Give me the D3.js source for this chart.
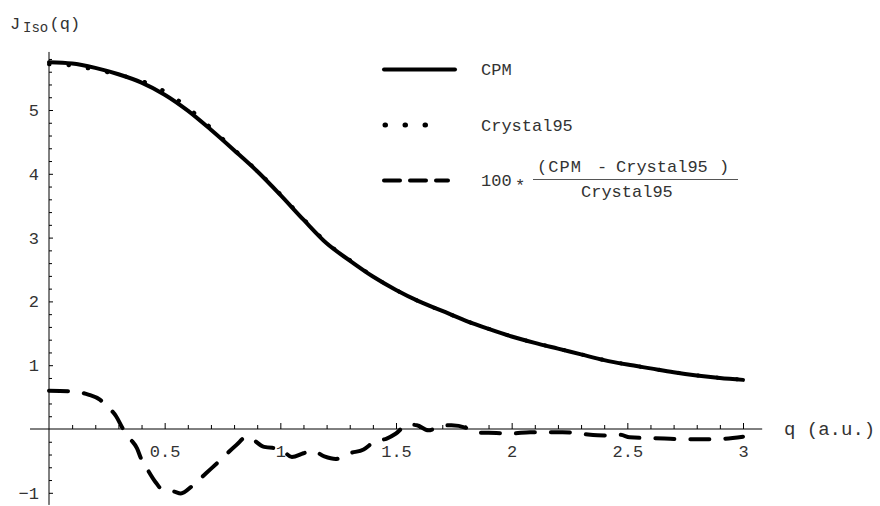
<!DOCTYPE html>
<html>
<head>
<meta charset="utf-8">
<script src="https://cdn.jsdelivr.net/npm/d3@7"></script>
<style>
  body { margin: 0; background: #fff; }
  svg text { font-family: "Liberation Mono", monospace; fill: #333; }
  .tick line { stroke: #000; }
</style>
</head>
<body>
<script>
// DATA

var qValues = [0, 0.1, 0.2, 0.3, 0.4, 0.5, 0.6, 0.7, 0.8, 0.9, 1.0, 1.1, 1.2, 1.3, 1.4, 1.5,
  1.6, 1.7, 1.8, 1.9, 2.0, 2.1, 2.2, 2.3, 2.4, 2.5, 2.6, 2.7, 2.8, 2.9, 3.0];

var cpm = [5.75, 5.73, 5.66, 5.56, 5.43, 5.24, 4.99, 4.69, 4.37, 4.04, 3.67, 3.28, 2.91, 2.64, 2.39, 2.18,
  2.00, 1.85, 1.70, 1.57, 1.45, 1.35, 1.26, 1.17, 1.08, 1.01, 0.95, 0.89, 0.84, 0.80, 0.77];

var crystal95 = [5.716, 5.696, 5.632, 5.552, 5.457, 5.291, 5.038, 4.720, 4.382, 4.048, 3.681, 3.292, 2.923, 2.650, 2.395, 2.181,
  1.999, 1.849, 1.700, 1.571, 1.451, 1.351, 1.261, 1.171, 1.081, 1.011, 0.951, 0.891, 0.841, 0.801, 0.771];

// 100 * (CPM - Crystal95) / Crystal95
var diffQ = [0, 0.1, 0.17, 0.22, 0.25, 0.29, 0.32, 0.35, 0.38, 0.40, 0.42, 0.46, 0.49, 0.54, 0.57, 0.62,
  0.68, 0.74, 0.81, 0.855, 0.93, 1.0, 1.05, 1.10, 1.14, 1.19, 1.24, 1.30, 1.36, 1.41, 1.46, 1.50,
  1.55, 1.59, 1.64, 1.69, 1.74, 1.81, 1.85, 1.90, 2.0, 2.08, 2.22, 2.31, 2.40, 2.47, 2.51, 2.66,
  2.74, 2.87, 3.0];
var diffValues = [0.60, 0.59, 0.54, 0.46, 0.36, 0.20, 0.0, -0.15, -0.30, -0.48, -0.60, -0.83, -0.95, -0.98, -1.01, -0.89,
  -0.69, -0.49, -0.25, -0.12, -0.28, -0.31, -0.44, -0.38, -0.34, -0.43, -0.47, -0.38, -0.32, -0.19, -0.15, -0.07,
  0.07, 0.06, -0.02, 0.04, 0.06, 0.01, -0.06, -0.06, -0.07, -0.05, -0.05, -0.08, -0.10, -0.09, -0.13, -0.15,
  -0.16, -0.16, -0.12];

var xTicks = [0.5, 1, 1.5, 2, 2.5, 3];
var yTicks = [-1, 1, 2, 3, 4, 5];

// SET CHART

var width = 880, height = 506;

var svg = d3.select("body")
  .append("svg")
  .attr("width", width)
  .attr("height", height);

var x = d3.scaleLinear().domain([0, 3]).range([49, 743]);
var y = d3.scaleLinear().domain([0, 5]).range([429, 110]);

// axes lines
svg.append("line")
  .attr("x1", x(-0.082)).attr("x2", x(3.083))
  .attr("y1", y(0)).attr("y2", y(0))
  .style("stroke", "#000").style("stroke-width", 1);

svg.append("line")
  .attr("x1", x(0)).attr("x2", x(0))
  .attr("y1", y(5.91)).attr("y2", y(-1.19))
  .style("stroke", "#000").style("stroke-width", 1);

// x ticks
var xMinor = d3.range(1, 31).map(function (i) { return i / 10; })
  .filter(function (v) { return Math.abs(v * 2 - Math.round(v * 2)) > 1e-6; });

svg.append("g")
  .attr("transform", "translate(0," + y(0) + ")")
  .call(d3.axisBottom(x).tickValues(xMinor).tickSize(-4).tickFormat(""))
  .call(function (g) { g.select(".domain").remove(); });

svg.append("g")
  .attr("transform", "translate(0," + y(0) + ")")
  .call(d3.axisBottom(x).tickValues(xTicks).tickSize(-6).tickPadding(15.5).tickFormat(d3.format("")))
  .call(function (g) { g.select(".domain").remove(); })
  .selectAll("text")
  .style("font-size", "17px")
  .style("font-family", "Liberation Mono, monospace");

// y ticks
var yMinor = d3.range(-5, 30).map(function (i) { return i / 5; })
  .filter(function (v) { return Math.abs(v - Math.round(v)) > 1e-6; });

svg.append("g")
  .attr("transform", "translate(" + x(0) + ",0)")
  .call(d3.axisLeft(y).tickValues(yMinor).tickSize(-3).tickFormat(""))
  .call(function (g) { g.select(".domain").remove(); });

svg.append("g")
  .attr("transform", "translate(" + x(0) + ",0)")
  .call(d3.axisLeft(y).tickValues(yTicks).tickSize(-4).tickPadding(10).tickFormat(d3.format("")))
  .call(function (g) { g.select(".domain").remove(); })
  .selectAll("text")
  .style("font-size", "17px")
  .style("font-family", "Liberation Mono, monospace");

// axis labels
var yLabel = svg.append("text").attr("y", 29).style("font-size", "17px");
yLabel.append("tspan").attr("x", 10).text("J");
yLabel.append("tspan").attr("x", 23).attr("y", 32).style("font-size", "14px").text("Iso");
yLabel.append("tspan").attr("x", 49.5).attr("y", 29).text("(q)");

svg.append("text")
  .attr("x", 784).attr("y", 435)
  .style("font-size", "19px")
  .text("q (a.u.)");

// LINES

var line = d3.line()
  .x(function (d) { return x(d[0]); })
  .y(function (d) { return y(d[1]); })
  .curve(d3.curveMonotoneX);

var crystalPts = qValues.map(function (q, i) { return [q, crystal95[i]]; });
var cpmPts = qValues.map(function (q, i) { return [q, cpm[i]]; });
var diffPts = diffQ.map(function (q, i) { return [q, diffValues[i]]; });

svg.append("path")
  .attr("d", line(crystalPts))
  .style("fill", "none").style("stroke", "#000")
  .style("stroke-width", 4)
  .style("stroke-linecap", "round")
  .style("stroke-dasharray", "0.5,19");

svg.append("path")
  .attr("d", line(cpmPts))
  .style("fill", "none").style("stroke", "#000")
  .style("stroke-width", 4)
  .style("stroke-linecap", "round");

svg.append("path")
  .attr("d", line(diffPts))
  .style("fill", "none").style("stroke", "#000")
  .style("stroke-width", 4)
  .style("stroke-linecap", "round")
  .style("stroke-dasharray", "19,16");

// LEGEND

var legend = svg.append("g").attr("class", "legend");

legend.append("line")
  .attr("x1", 384).attr("x2", 455).attr("y1", 69.5).attr("y2", 69.5)
  .style("stroke", "#000").style("stroke-width", 4).style("stroke-linecap", "round");
legend.append("text").attr("x", 481).attr("y", 75).style("font-size", "17px").text("CPM");

legend.append("line")
  .attr("x1", 385).attr("x2", 445).attr("y1", 125).attr("y2", 125)
  .style("stroke", "#000").style("stroke-width", 5).style("stroke-linecap", "round")
  .style("stroke-dasharray", "0.5,19.5");
legend.append("text").attr("x", 481).attr("y", 130.5).style("font-size", "17px").text("Crystal95");

legend.append("line")
  .attr("x1", 384).attr("x2", 448).attr("y1", 180.5).attr("y2", 180.5)
  .style("stroke", "#000").style("stroke-width", 4).style("stroke-linecap", "round")
  .style("stroke-dasharray", "16,10");

legend.append("text").attr("x", 481).attr("y", 185.5).style("font-size", "17px").text("100");
legend.append("text").attr("x", 515).attr("y", 191).style("font-size", "17px").text("*");

legend.append("line")
  .attr("x1", 533).attr("x2", 738).attr("y1", 179.5).attr("y2", 179.5)
  .style("stroke", "#555").style("stroke-width", 1);

var num = legend.append("text").attr("y", 172).style("font-size", "17px");
num.append("tspan").attr("x", 537).attr("textLength", 44).text("(CPM");
num.append("tspan").attr("x", 597).text("-");
num.append("tspan").attr("x", 616).text("Crystal95");
num.append("tspan").attr("x", 719).text(")");

legend.append("text").attr("x", 581).attr("y", 197).style("font-size", "17px").text("Crystal95");
</script>
</body>
</html>
